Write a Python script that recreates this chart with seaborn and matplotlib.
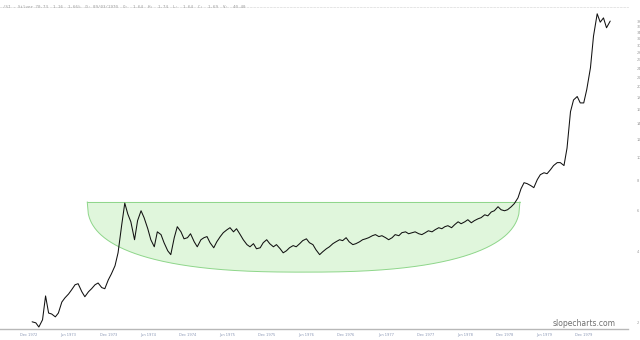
import numpy as np
import pandas as pd
import matplotlib
matplotlib.use("Agg")
import matplotlib.pyplot as plt
import matplotlib.dates as mdates
from matplotlib.ticker import FixedLocator, NullLocator
import seaborn as sns

# ---- data (semi-monthly closes) ----
start_date = "1972-12-15"
prices = [
    2.02, 2.00, 1.92, 2.06, 2.60, 2.20, 2.18, 2.12, 2.20, 2.45,
    2.55, 2.65, 2.76, 2.90, 2.93, 2.71, 2.58, 2.71, 2.79, 2.90,
    2.95, 2.82, 2.79, 3.04, 3.22, 3.49, 3.96, 5.21, 6.43, 5.78,
    5.36, 4.50, 5.42, 5.97, 5.58, 5.01, 4.50, 4.20, 4.86, 4.73,
    4.37, 4.04, 3.89, 4.59, 5.11, 4.86, 4.54, 4.59, 4.77, 4.41,
    4.20, 4.50, 4.59, 4.64, 4.37, 4.16, 4.41, 4.64, 4.82, 4.96,
    5.06, 4.86, 5.01, 4.73, 4.50, 4.29, 4.20, 4.33, 4.12, 4.16,
    4.37, 4.50, 4.33, 4.20, 4.29, 4.12, 3.96, 4.04, 4.16, 4.25,
    4.20, 4.33, 4.46, 4.54, 4.37, 4.29, 4.08, 3.89, 4.00, 4.12,
    4.20, 4.33, 4.41, 4.50, 4.46, 4.59, 4.41, 4.29, 4.33, 4.41,
    4.50, 4.54, 4.59, 4.68, 4.73, 4.64, 4.68, 4.59, 4.50, 4.59,
    4.73, 4.68, 4.82, 4.86, 4.77, 4.82, 4.86, 4.77, 4.73, 4.82,
    4.91, 4.86, 4.96, 5.06, 5.01, 5.11, 5.16, 5.06, 5.21, 5.36,
    5.26, 5.36, 5.47, 5.31, 5.42, 5.52, 5.58, 5.74, 5.68, 5.90,
    5.97, 6.21, 6.03, 5.97, 6.03, 6.21, 6.40, 6.77, 7.40, 7.85,
    7.78, 7.63, 7.48, 8.09, 8.49, 8.65, 8.57, 8.92, 9.28, 9.55,
    9.55, 9.28, 11.0, 15.7, 17.6, 18.2, 17.1, 17.1, 19.5, 24.1,
    32.8, 40.8, 37.6, 39.2, 35.6, 38.0,
]
dates = pd.date_range(start_date, periods=len(prices), freq="SMS")
df = pd.DataFrame({"date": dates, "close": prices})

tick_dates = pd.date_range("1972-12-01", "1979-12-01", freq="6MS")
tick_labels = [d.strftime("%b %Y") for d in tick_dates]
y_ticks = list(range(2, 40, 2))

cup_left, cup_right = "1973-08-26", "1979-02-10"
cup_rim, cup_bottom = 6.51, 3.28

header = ("/SI - Silver 70.73  1.16  1.66%  D: 09/03/1970  O:  1.64  H:  1.74  L:  1.64  C:  1.69  V:  40.40")

# ---- figure ----
sns.set_style("white")
fig = plt.figure(figsize=(6.4, 3.4), dpi=100)
ax = fig.add_axes([0.0, 11 / 340, 628 / 640, 322 / 340])

# cup annotation
x0 = mdates.date2num(pd.Timestamp(cup_left))
x1 = mdates.date2num(pd.Timestamp(cup_right))
u = np.linspace(-1, 1, 400)
depth = np.log10(cup_rim) - np.log10(cup_bottom)
ly = np.log10(cup_rim) - depth * (1 - np.abs(u) ** 2.5) ** (1 / 2.5)
cx = (x0 + x1) / 2 + u * (x1 - x0) / 2
ax.fill(np.r_[cx, cx[::-1]], np.r_[10 ** ly, np.full_like(cx, cup_rim)],
        facecolor="#e0f6dc", edgecolor="none", zorder=1)
ax.plot(cx, 10 ** ly, color="#8ed68a", lw=0.7, zorder=1)
ax.plot([x0, x1], [cup_rim, cup_rim], color="#8ed68a", lw=0.7, zorder=1)

sns.lineplot(data=df, x="date", y="close", ax=ax, color="#111111", lw=0.75,
             zorder=3)

ax.set_yscale("log")
ax.set_ylim(1.883, 43.6)
ax.set_xlim(pd.Timestamp("1972-07-20"), pd.Timestamp("1980-06-22"))

ax.xaxis.set_major_locator(FixedLocator(mdates.date2num(tick_dates)))
ax.set_xticklabels(tick_labels)
ax.yaxis.tick_right()
ax.yaxis.set_major_locator(FixedLocator(y_ticks))
ax.yaxis.set_minor_locator(NullLocator())
ax.set_yticklabels([str(v) for v in y_ticks])
ax.tick_params(axis="x", length=0, labelsize=2.6, colors="#8a97b5", pad=3)
ax.tick_params(axis="y", length=0, labelsize=2.6, colors="#9a9a9a", pad=6)
ax.set_xlabel("")
ax.set_ylabel("")

for s in ["left", "right"]:
    ax.spines[s].set_visible(False)
ax.spines["bottom"].set_color("#b8b8b8")
ax.spines["bottom"].set_linewidth(1.0)
ax.spines["top"].set_color("#e0e0e0")
ax.spines["top"].set_linestyle((0, (2, 2)))
ax.spines["top"].set_linewidth(0.6)

fig.text(3 / 640, 1 - 7 / 340, header, fontsize=3, color="#9a9a9a",
         va="center", ha="left", family="DejaVu Sans Mono")
fig.text(584 / 640, 1 - 324 / 340, "slopecharts.com", fontsize=5.5,
         color="#707070", ha="center", va="center")

fig.savefig("out.png", dpi=100)
